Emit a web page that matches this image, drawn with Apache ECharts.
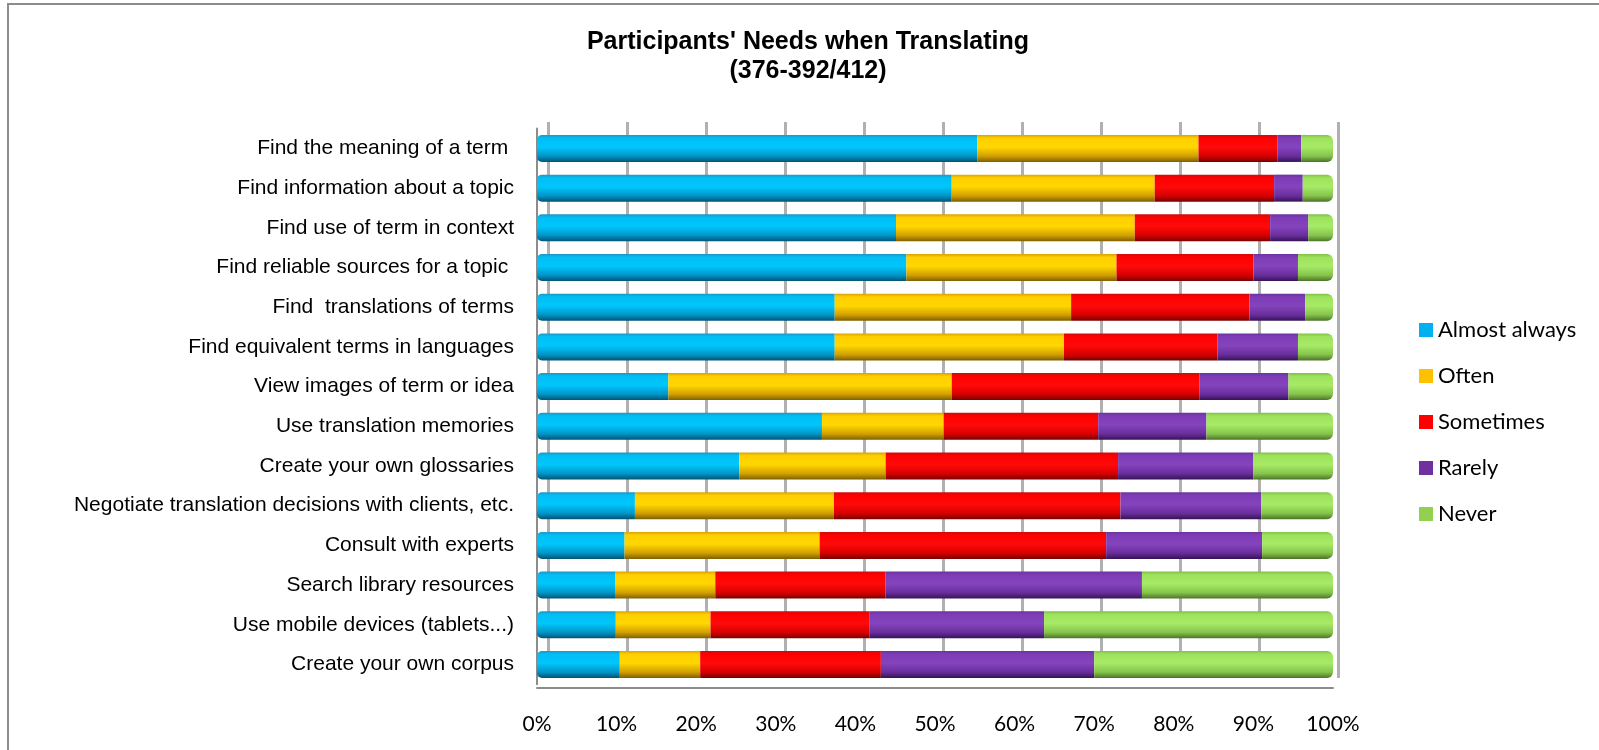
<!DOCTYPE html>
<html>
<head>
<meta charset="utf-8">
<script src="https://cdn.jsdelivr.net/npm/echarts@6/dist/echarts.min.js"></script>
<style>
  html, body { margin: 0; padding: 0; background: #ffffff; }
  #chart { width: 1599px; height: 750px; }
</style>
</head>
<body>
<div id="chart"></div>
<script>
// Survey items, top to bottom
const categories = [
  'Find the meaning of a term ',
  'Find information about a topic',
  'Find use of term in context',
  'Find reliable sources for a topic ',
  'Find  translations of terms',
  'Find equivalent terms in languages',
  'View images of term or idea',
  'Use translation memories',
  'Create your own glossaries',
  'Negotiate translation decisions with clients, etc.',
  'Consult with experts',
  'Search library resources',
  'Use mobile devices (tablets...)',
  'Create your own corpus'
];

// Share of answers per item, in percent
const almostAlways = [55.3, 52.1, 45.1, 46.4, 37.4, 37.4, 16.5, 35.8, 25.4, 12.3, 11.0, 9.8, 9.9, 10.4];
const often        = [27.8, 25.5, 30.0, 26.4, 29.7, 28.8, 35.6, 15.3, 18.4, 25.0, 24.5, 12.6, 11.9, 10.1];
const sometimes    = [9.9, 15.0, 17.0, 17.2, 22.4, 19.3, 31.1, 19.4, 29.2, 36.0, 36.0, 21.4, 20.0, 22.7];
const rarely       = [3.0, 3.6, 4.8, 5.6, 7.0, 10.1, 11.2, 13.6, 17.0, 17.7, 19.6, 32.2, 21.9, 26.8];
const never        = [4.0, 3.8, 3.1, 4.4, 3.5, 4.4, 5.6, 15.9, 10.0, 9.0, 8.9, 24.0, 36.3, 30.0];

const seriesNames = ['Almost always', 'Often', 'Sometimes', 'Rarely', 'Never'];
const tickValues = [0, 10, 20, 30, 40, 50, 60, 70, 80, 90, 100];

// Flat legend colours and shaded tube gradients (top edge -> highlight -> bottom edge)
const flatColors = ['#00b0f0', '#ffc000', '#ff0000', '#7030a0', '#92d050'];
const tubeStops = [
  ['#1f95c4', '#00bff5', '#00c6fc', '#0096c8', '#005474'],
  ['#d9a300', '#ffcf00', '#ffd700', '#d3a000', '#7d6000'],
  ['#cc0c0c', '#ff0000', '#ff0a0a', '#d80000', '#780000'],
  ['#6a34a0', '#7e3cb6', '#8444bd', '#6a2e9c', '#351456'],
  ['#80c048', '#9ee25c', '#a6ea66', '#86c44c', '#4c7428']
];

function tube(stops) {
  return {
    type: 'linear', x: 0, y: 0, x2: 0, y2: 1,
    colorStops: [
      { offset: 0, color: stops[0] },
      { offset: 0.12, color: stops[1] },
      { offset: 0.45, color: stops[2] },
      { offset: 0.78, color: stops[3] },
      { offset: 1, color: stops[4] }
    ]
  };
}

const values = [almostAlways, often, sometimes, rarely, never];
const radii = [[5, 0, 0, 5], 0, 0, 0, [0, 6, 6, 0]];

const chart = echarts.init(document.getElementById('chart'), null, { renderer: 'canvas' });

const option = {
  backgroundColor: '#ffffff',
  animation: false,
  graphic: [{
    type: 'rect',
    shape: { x: 8, y: 4, width: 1620, height: 780 },
    style: { fill: 'none', stroke: '#8c8c8c', lineWidth: 2 },
    silent: true,
    z: 0
  }],
  title: {
    text: "Participants' Needs when Translating\n(376-392/412)",
    left: 803,
    top: 23,
    textAlign: 'center',
    textStyle: {
      fontFamily: 'Liberation Sans',
      fontWeight: 'bold',
      fontSize: 25,
      lineHeight: 29,
      color: '#000000'
    }
  },
  legend: {
    orient: 'vertical',
    left: 1419,
    top: 319,
    padding: 0,
    itemWidth: 14,
    itemHeight: 14,
    itemGap: 24,
    icon: 'rect',
    textStyle: { fontFamily: 'Lato', fontSize: 22, lineHeight: 22, color: '#000000' },
    data: seriesNames.map((n, i) => ({ name: n, itemStyle: { color: flatColors[i] } }))
  },
  grid: [
    // front: bars
    { left: 537, top: 128.6, width: 796, height: 555.7, containLabel: false },
    // back wall: grid lines
    { left: 548, top: 122, width: 790, height: 556, containLabel: false }
  ],
  xAxis: [
    {
      gridIndex: 0,
      type: 'value',
      min: 0, max: 100, interval: 10,
      offset: 3,
      axisLine: { show: true, lineStyle: { color: '#8c8c8c', width: 2 } },
      axisTick: { show: false },
      splitLine: { show: false },
      axisLabel: {
        formatter: v => tickValues.indexOf(v) >= 0 ? v + '%' : '',
        margin: 26,
        fontFamily: 'Lato',
        fontSize: 21,
        lineHeight: 22,
        color: '#000000'
      }
    },
    {
      gridIndex: 1,
      type: 'value',
      min: 0, max: 100, interval: 10,
      axisLine: { show: false },
      axisTick: { show: false },
      axisLabel: { show: false },
      splitLine: { show: true, lineStyle: { color: '#b0b0b0', width: 3 } }
    }
  ],
  yAxis: [
    {
      gridIndex: 0,
      type: 'category',
      data: categories,
      inverse: true,
      axisLine: { show: true, lineStyle: { color: '#8c8c8c', width: 2 } },
      axisTick: { show: false },
      splitLine: { show: false },
      axisLabel: {
        margin: 23,
        fontFamily: 'Liberation Sans',
        fontSize: 21,
        color: '#000000'
      }
    },
    {
      gridIndex: 1,
      type: 'value',
      min: 0, max: 1,
      show: false
    }
  ],
  series: seriesNames.map((name, i) => ({
    name: name,
    type: 'bar',
    stack: 'total',
    xAxisIndex: 0,
    yAxisIndex: 0,
    barWidth: 27,
    data: values[i],
    itemStyle: { color: tube(tubeStops[i]), borderRadius: radii[i] },
    emphasis: { disabled: true },
    z: 3
  }))
};

chart.setOption(option);
</script>
</body>
</html>
